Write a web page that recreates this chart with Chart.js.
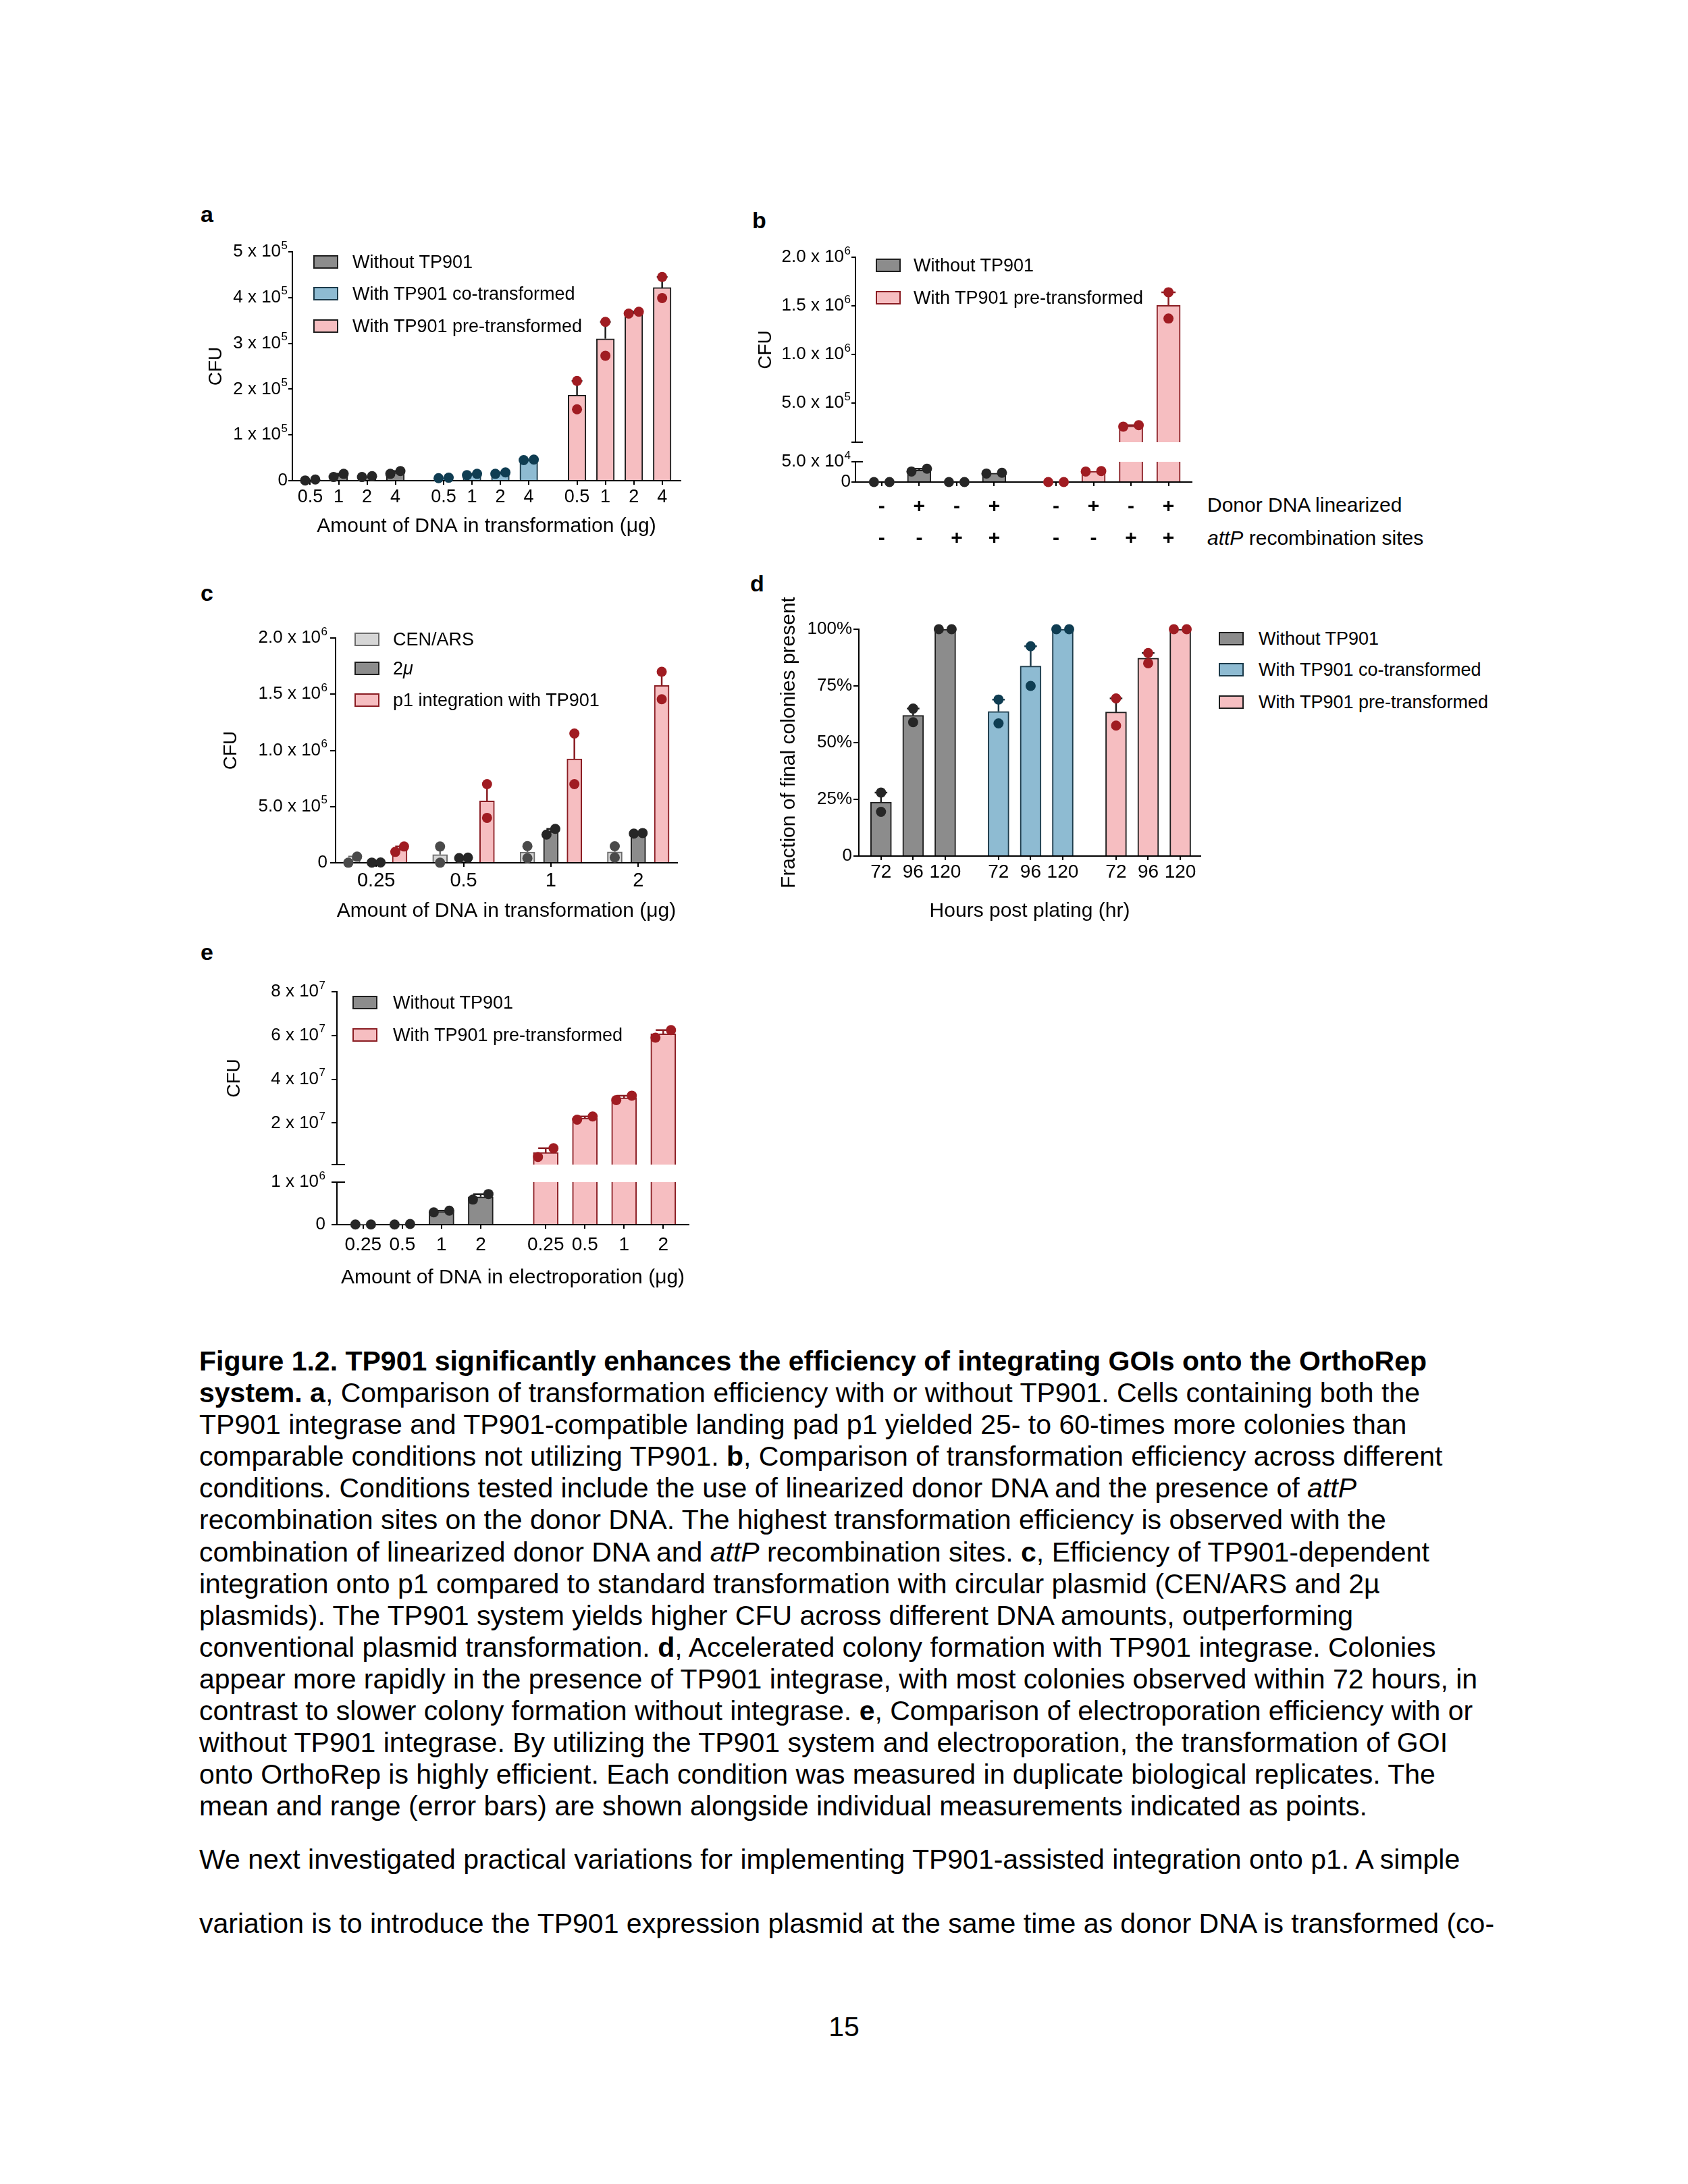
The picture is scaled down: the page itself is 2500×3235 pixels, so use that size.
<!DOCTYPE html>
<html>
<head>
<meta charset="utf-8">
<title>Figure 1.2</title>
<script src="https://cdn.jsdelivr.net/npm/chart.js@4.4.1/dist/chart.umd.min.js"></script>
<style>
  html, body { margin: 0; padding: 0; background: #fff; }
  body { position: relative; width: 2500px; height: 3235px; overflow: hidden;
         font-family: 'Liberation Sans', Arial, Helvetica, sans-serif; color: #000; }
  canvas { position: absolute; }
  .panel { position: absolute; font-weight: bold; font-size: 34px; line-height: 34px; }
  .legbox { position: absolute; width: 37px; height: 20px; box-sizing: border-box; border: 2px solid #000; }
  .legtxt { position: absolute; font-size: 27px; line-height: 30px; white-space: nowrap; }
  .rowlbl { position: absolute; font-size: 30px; line-height: 34px; white-space: nowrap; }
  .text { position: absolute; left: 295px; font-size: 41px; line-height: 47.1px; white-space: nowrap; }
</style>
</head>
<body>
<div class="panel" style="left:297px;top:300px">a</div>
<div class="panel" style="left:1114px;top:309px">b</div>
<div class="panel" style="left:297px;top:861px">c</div>
<div class="panel" style="left:1111px;top:847px">d</div>
<div class="panel" style="left:297px;top:1393px">e</div>

<canvas id="chartA"></canvas>
<canvas id="chartBlow"></canvas>
<canvas id="chartBup"></canvas>
<canvas id="chartC"></canvas>
<canvas id="chartD"></canvas>
<canvas id="chartElow"></canvas>
<canvas id="chartEup"></canvas>

<div class="rowlbl" style="left:1788px;top:731px">Donor DNA linearized</div>
<div class="rowlbl" style="left:1788px;top:780px"><i>attP</i> recombination sites</div>

<div class="text" style="top:1993px">
<b>Figure 1.2. TP901 significantly enhances the efficiency of integrating GOIs onto the OrthoRep</b><br>
<b>system. a</b>, Comparison of transformation efficiency with or without TP901. Cells containing both the<br>
TP901 integrase and TP901-compatible landing pad p1 yielded 25- to 60-times more colonies than<br>
comparable conditions not utilizing TP901. <b>b</b>, Comparison of transformation efficiency across different<br>
conditions. Conditions tested include the use of linearized donor DNA and the presence of <i>attP</i><br>
recombination sites on the donor DNA. The highest transformation efficiency is observed with the<br>
combination of linearized donor DNA and <i>attP</i> recombination sites. <b>c</b>, Efficiency of TP901-dependent<br>
integration onto p1 compared to standard transformation with circular plasmid (CEN/ARS and 2µ<br>
plasmids). The TP901 system yields higher CFU across different DNA amounts, outperforming<br>
conventional plasmid transformation. <b>d</b>, Accelerated colony formation with TP901 integrase. Colonies<br>
appear more rapidly in the presence of TP901 integrase, with most colonies observed within 72 hours, in<br>
contrast to slower colony formation without integrase. <b>e</b>, Comparison of electroporation efficiency with or<br>
without TP901 integrase. By utilizing the TP901 system and electroporation, the transformation of GOI<br>
onto OrthoRep is highly efficient. Each condition was measured in duplicate biological replicates. The<br>
mean and range (error bars) are shown alongside individual measurements indicated as points.
</div>
<div class="text" style="top:2731px">We next investigated practical variations for implementing TP901-assisted integration onto p1. A simple</div>
<div class="text" style="top:2826px">variation is to introduce the TP901 expression plasmid at the same time as donor DNA is transformed (co-</div>
<div class="text" style="top:2979px;left:0;width:2500px;text-align:center">15</div>

<script>
const FAMILY = "'Liberation Sans', Arial, Helvetica, sans-serif";
Chart.defaults.font.family = FAMILY;
Chart.defaults.color = '#000';

// ---------- data ----------
// a
const aDoses = ['0.5', '1', '2', '4'];
const aSeries = ['Without TP901', 'With TP901 co-transformed', 'With TP901 pre-transformed'];
const aWithoutMean = [1500, 11500, 9000, 18000];
const aWithoutRep1 = [500, 8000, 8000, 15000];
const aWithoutRep2 = [2500, 15000, 10000, 21000];
const aCoMean = [6000, 13500, 16500, 45500];
const aCoRep1 = [5500, 12000, 15000, 45000];
const aCoRep2 = [6500, 15000, 18000, 46000];
const aPreMean = [187000, 310000, 367000, 422000];
const aPreRep1 = [218000, 347000, 365000, 445000];
const aPreRep2 = [156000, 273000, 369000, 399000];
const aYTicks = [0, 100000, 200000, 300000, 400000, 500000];
const aYLabels = ['0', '1 x 10^5', '2 x 10^5', '3 x 10^5', '4 x 10^5', '5 x 10^5'];

// b
const bSeries = ['Without TP901', 'With TP901 pre-transformed'];
const bLinearized = ['-', '+', '-', '+'];
const bAttP = ['-', '-', '+', '+'];
const bWithoutMean = [0, 29500, 0, 22000];
const bWithoutRep1 = [0, 26000, 0, 21000];
const bWithoutRep2 = [0, 33000, 0, 23000];
const bPreMean = [0, 26500, 268000, 1505000];
const bPreRep1 = [0, 26000, 260000, 1640000];
const bPreRep2 = [0, 27000, 275000, 1370000];
const bLowTicks = [0, 50000];
const bLowLabels = ['0', '5.0 x 10^4'];
const bUpTicks = [100000, 500000, 1000000, 1500000, 2000000];
const bUpLabels = ['', '5.0 x 10^5', '1.0 x 10^6', '1.5 x 10^6', '2.0 x 10^6'];

// c
const cDoses = ['0.25', '0.5', '1', '2'];
const cSeries = ['CEN/ARS', '2<i>μ</i>', 'p1 integration with TP901'];
const cCenMean = [28000, 73000, 95000, 97000];
const cCenRep1 = [1000, 145000, 149000, 147000];
const cCenRep2 = [55000, 1000, 41000, 47000];
const c2muMean = [2500, 44000, 277000, 262000];
const c2muRep1 = [2000, 42000, 251000, 260000];
const c2muRep2 = [3000, 46000, 302000, 265000];
const cP1Mean = [121000, 550000, 925000, 1578000];
const cP1Rep1 = [97000, 700000, 1150000, 1700000];
const cP1Rep2 = [145000, 400000, 700000, 1455000];
const cYTicks = [0, 500000, 1000000, 1500000, 2000000];
const cYLabels = ['0', '5.0 x 10^5', '1.0 x 10^6', '1.5 x 10^6', '2.0 x 10^6'];

// d
const dHours = ['72', '96', '120'];
const dSeries = ['Without TP901', 'With TP901 co-transformed', 'With TP901 pre-transformed'];
const dWithoutMean = [23.75, 62, 100];
const dWithoutRep1 = [28, 65, 100];
const dWithoutRep2 = [19.5, 59, 100];
const dCoMean = [63.75, 83.75, 100];
const dCoRep1 = [69, 92.5, 100];
const dCoRep2 = [58.5, 75, 100];
const dPreMean = [63.5, 87.25, 100];
const dPreRep1 = [69.5, 89.5, 100];
const dPreRep2 = [57.5, 85, 100];
const dYTicks = [0, 25, 50, 75, 100];
const dYLabels = ['0', '25%', '50%', '75%', '100%'];

// e
const eDoses = ['0.25', '0.5', '1', '2'];
const eSeries = ['Without TP901', 'With TP901 pre-transformed'];
const eWithoutMean = [4000, 10000, 310000, 655000];
const eWithoutRep1 = [3000, 5000, 290000, 590000];
const eWithoutRep2 = [5000, 15000, 330000, 720000];
const ePreMean = [6500000, 22250000, 31500000, 60750000];
const ePreRep1 = [4500000, 21500000, 30500000, 59000000];
const ePreRep2 = [8500000, 23000000, 32500000, 62500000];
const eLowTicks = [0, 1000000];
const eLowLabels = ['0', '1 x 10^6'];
const eUpTicks = [1000000, 20000000, 40000000, 60000000, 80000000];
const eUpLabels = ['', '2 x 10^7', '4 x 10^7', '6 x 10^7', '8 x 10^7'];

// ---------- colours ----------
const GRAY = { fill: '#8c8c8c', line: '#1e1e1e', dot: '#262626' };
const LIGHT = { fill: '#d6d6d6', line: '#6b6b6b', dot: '#4a4a4a' };
const BLUE = { fill: '#8ebbd2', line: '#1b3a4a', dot: '#0f3d52' };
const PINK = { fill: '#f6bec1', line: '#1e1e1e', dot: '#a01c22' };
const PINKRED = { fill: '#f6bec1', line: '#8a1d23', dot: '#a01c22' };

// ---------- plugins ----------
const errorBars = {
  id: 'errorBars',
  afterDatasetDraw(chart, args) {
    const ds = chart.data.datasets[args.index];
    if (!ds.errHigh) return;
    const ctx = chart.ctx, area = chart.chartArea, y = chart.scales[args.meta.yAxisID];
    ctx.save();
    ctx.beginPath();
    ctx.rect(0, area.top, chart.width, area.bottom - area.top);
    ctx.clip();
    ctx.strokeStyle = ds.errColor;
    ctx.lineWidth = 2.5;
    args.meta.data.forEach((bar, i) => {
      const yTop = y.getPixelForValue(ds.errHigh[i]);
      const yMean = y.getPixelForValue(ds.data[i].y);
      if (yMean - yTop < 1) return;
      const half = bar.width * 0.3;
      ctx.beginPath();
      ctx.moveTo(bar.x, yMean);
      ctx.lineTo(bar.x, yTop);
      ctx.moveTo(bar.x - half, yTop);
      ctx.lineTo(bar.x + half, yTop);
      ctx.stroke();
    });
    ctx.restore();
  }
};

// little horizontal stub where the y axis is broken
const breakCap = {
  id: 'breakCap',
  afterDraw(chart, args, o) {
    if (!o || !o.edge) return;
    const a = chart.chartArea, ctx = chart.ctx;
    const y = o.edge === 'top' ? a.top : a.bottom;
    ctx.save();
    ctx.strokeStyle = '#000';
    ctx.lineWidth = 2;
    ctx.beginPath();
    ctx.moveTo(a.left, y);
    ctx.lineTo(a.left + o.len, y);
    ctx.stroke();
    ctx.restore();
  }
};

// y tick labels with a real raised exponent ("5 x 10^5")
const supTicks = {
  id: 'supTicks',
  afterDraw(chart, args, o) {
    if (!o || !o.labels) return;
    const ys = chart.scales.y, ctx = chart.ctx;
    const right = chart.chartArea.left - o.offset;
    ctx.save();
    ctx.fillStyle = '#000';
    ctx.textBaseline = 'middle';
    ctx.textAlign = 'right';
    ys.ticks.forEach((t, i) => {
      const parts = (o.labels[i] || '').split('^');
      const py = ys.getPixelForValue(t.value);
      let x = right;
      if (parts[1]) {
        ctx.font = '17px ' + FAMILY;
        ctx.fillText(parts[1], x, py - 9);
        x -= ctx.measureText(parts[1]).width + 0.5;
      }
      ctx.font = '26px ' + FAMILY;
      ctx.fillText(parts[0], x, py);
    });
    ctx.restore();
  }
};

// ---------- helpers ----------
function positions(nGroups, perGroup, gap) {
  const out = [];
  let x = 0;
  for (let g = 0; g < nGroups; g++) {
    for (let k = 0; k < perGroup; k++) { out.push(x); x += 1; }
    x += gap - 1;
  }
  return out;
}

function makeChart(id, box, area, cfg) {
  const cv = document.getElementById(id);
  cv.width = box.w;
  cv.height = box.h;
  cv.style.left = box.l + 'px';
  cv.style.top = box.t + 'px';

  const showX = cfg.xTicks !== undefined;
  const unitX = (area.r - area.l) / (cfg.xMax - cfg.xMin);
  const unitY = (area.b - area.t) / (cfg.yMax - cfg.yMin);
  const dx = cfg.dotDx / unitX;
  const near = 15 / unitY;

  let barClip, dotClip = false, lo = -Infinity, hi = Infinity;
  if (cfg.part === 'upper') {
    barClip = dotClip = { left: false, right: false, top: false, bottom: 0 };
    lo = cfg.yMin;
  } else if (cfg.part === 'lower') {
    barClip = dotClip = { left: false, right: false, top: 0, bottom: false };
    hi = cfg.yMax;
  }

  const datasets = [];
  cfg.series.forEach(s => {
    datasets.push({
      type: 'bar',
      data: s.x.map((x, i) => ({ x: x, y: s.mean[i] })),
      backgroundColor: s.col.fill,
      borderColor: s.col.line,
      borderWidth: 2,
      barThickness: cfg.barThickness,
      grouped: false,
      order: 2,
      errHigh: s.r1.map((v, i) => Math.max(v, s.r2[i])),
      errColor: s.col.line,
      clip: barClip
    });
    const pts = [];
    s.x.forEach((x, i) => {
      const a = s.r1[i], b = s.r2[i];
      let xa = x, xb = x;
      if (Math.abs(a - b) < near) {
        if (a <= b) { xa = x - dx; xb = x + dx; } else { xa = x + dx; xb = x - dx; }
      }
      if (a >= lo && a <= hi) pts.push({ x: xa, y: a });
      if (b >= lo && b <= hi) pts.push({ x: xb, y: b });
    });
    datasets.push({
      type: 'scatter',
      data: pts,
      pointRadius: 7.5,
      pointHoverRadius: 7.5,
      pointBackgroundColor: s.col.dot,
      pointBorderWidth: 0,
      order: 1,
      clip: dotClip
    });
  });

  const axisLine = { display: true, color: '#000', width: 2 };
  const x = {
    type: 'linear', min: cfg.xMin, max: cfg.xMax, display: showX, offset: false,
    grid: { display: true, offset: false, drawOnChartArea: false, drawTicks: true, tickLength: 6, color: '#000', lineWidth: 2 },
    border: axisLine
  };
  if (showX) {
    x.afterFit = sc => { sc.height = box.t + box.h - area.b; };
    x.afterBuildTicks = sc => { sc.ticks = cfg.xTicks.map(v => ({ value: v })); };
    x.ticks = { autoSkip: false, maxRotation: 0, minRotation: 0, padding: cfg.xPad, font: cfg.xFont, color: '#000',
                callback: (v, i) => cfg.xLabels[i] };
    x.title = cfg.xTitle
      ? { display: true, text: cfg.xTitle, font: { size: 30 }, color: '#000', padding: { top: 0, bottom: cfg.xTitlePad } }
      : { display: false };
  }
  const y = {
    type: 'linear', min: cfg.yMin, max: cfg.yMax,
    afterFit: sc => { sc.width = area.l - box.l; },
    afterBuildTicks: sc => { sc.ticks = cfg.yTicks.map(v => ({ value: v })); },
    ticks: { display: false, autoSkip: false },
    grid: { display: true, drawOnChartArea: false, drawTicks: true, tickLength: cfg.yTick, color: '#000', lineWidth: 2 },
    border: axisLine,
    title: cfg.yTitle
      ? { display: true, text: cfg.yTitle, font: { size: cfg.yTitleSize }, color: '#000', padding: { top: cfg.yTitlePad, bottom: 0 } }
      : { display: false }
  };

  return new Chart(cv, {
    type: 'bar',
    data: { datasets: datasets },
    options: {
      responsive: false,
      animation: false,
      devicePixelRatio: 1,
      events: [],
      layout: { padding: { left: 0, top: area.t - box.t, right: box.l + box.w - area.r,
                           bottom: showX ? 0 : box.t + box.h - area.b } },
      plugins: {
        legend: { display: false },
        tooltip: { enabled: false },
        breakCap: cfg.breakCap || {},
        supTicks: { labels: cfg.yLabels, offset: cfg.yTick + cfg.yPad }
      },
      scales: { x: x, y: y }
    },
    plugins: [errorBars, breakCap, supTicks]
  });
}

function legend(names, cols, boxLeft, textLeft, rows) {
  names.forEach((n, i) => {
    const b = document.createElement('div');
    b.className = 'legbox';
    b.style.left = boxLeft + 'px';
    b.style.top = (rows[i] - 10) + 'px';
    b.style.background = cols[i].fill;
    b.style.borderColor = cols[i].line;
    const t = document.createElement('div');
    t.className = 'legtxt';
    t.style.left = textLeft + 'px';
    t.style.top = (rows[i] - 15) + 'px';
    t.innerHTML = n;
    document.body.append(b, t);
  });
}

// ---------- panel a ----------
const aPos = positions(3, 4, 1.7);
makeChart('chartA', { l: 290, t: 330, w: 740, h: 480 }, { l: 433, t: 373, r: 1008, b: 712 }, {
  xMin: -0.63, xMax: 13.05, xTicks: aPos, xLabels: aDoses.concat(aDoses, aDoses),
  xFont: { size: 27 }, xPad: 2.8, xTitle: 'Amount of DNA in transformation (μg)', xTitlePad: 12,
  yMin: 0, yMax: 500000, yTicks: aYTicks, yLabels: aYLabels, yTick: 6, yPad: 1,
  yTitle: 'CFU', yTitleSize: 28, yTitlePad: 13.2,
  barThickness: 26.5, dotDx: 7.5,
  series: [
    { x: aPos.slice(0, 4), mean: aWithoutMean, r1: aWithoutRep1, r2: aWithoutRep2, col: GRAY },
    { x: aPos.slice(4, 8), mean: aCoMean, r1: aCoRep1, r2: aCoRep2, col: BLUE },
    { x: aPos.slice(8, 12), mean: aPreMean, r1: aPreRep1, r2: aPreRep2, col: PINK }
  ]
});
legend(aSeries, [GRAY, BLUE, PINK], 464, 522, [388, 435, 483]);

// ---------- panel b (broken axis) ----------
const bPos = positions(2, 4, 1.65);
const bSeriesData = [
  { x: bPos.slice(0, 4), mean: bWithoutMean, r1: bWithoutRep1, r2: bWithoutRep2, col: GRAY },
  { x: bPos.slice(4, 8), mean: bPreMean, r1: bPreRep1, r2: bPreRep2, col: PINKRED }
];
const bLabels = bLinearized.concat(bLinearized).map((v, i) => [v, bAttP.concat(bAttP)[i]]);
makeChart('chartBlow', { l: 1100, t: 664, w: 680, h: 156 }, { l: 1267, t: 684, r: 1765, b: 714 }, {
  part: 'lower',
  xMin: -0.7, xMax: 8.27, xTicks: bPos, xLabels: bLabels,
  xFont: { size: 30, weight: 'bold', lineHeight: 1.57 }, xPad: 7,
  yMin: 0, yMax: 50000, yTicks: bLowTicks, yLabels: bLowLabels, yTick: 6, yPad: 1,
  barThickness: 35, dotDx: 11.5, series: bSeriesData,
  breakCap: { edge: 'top', len: 11 }
});
makeChart('chartBup', { l: 1100, t: 350, w: 680, h: 325 }, { l: 1267, t: 381, r: 1765, b: 655 }, {
  part: 'upper',
  xMin: -0.7, xMax: 8.27,
  yMin: 100000, yMax: 2000000, yTicks: bUpTicks, yLabels: bUpLabels, yTick: 6, yPad: 1,
  yTitle: 'CFU', yTitleSize: 28, yTitlePad: 17.2,
  barThickness: 35, dotDx: 11.5, series: bSeriesData,
  breakCap: { edge: 'bottom', len: 11 }
});
legend(bSeries, [GRAY, PINKRED], 1297, 1353, [393, 441]);

// ---------- panel c ----------
const cStep = 3.72;
const cX = s => cDoses.map((d, g) => g * cStep + s);
makeChart('chartC', { l: 290, t: 905, w: 740, h: 470 }, { l: 497, t: 945, r: 1003, b: 1278 }, {
  xMin: -0.73, xMax: 13.82, xTicks: cX(1), xLabels: cDoses,
  xFont: { size: 29 }, xPad: 3.6, xTitle: 'Amount of DNA in transformation (μg)', xTitlePad: 7,
  yMin: 0, yMax: 2000000, yTicks: cYTicks, yLabels: cYLabels, yTick: 8, yPad: 4,
  yTitle: 'CFU', yTitleSize: 28, yTitlePad: 35.2,
  barThickness: 22, dotDx: 6.5,
  series: [
    { x: cX(0), mean: cCenMean, r1: cCenRep1, r2: cCenRep2, col: LIGHT },
    { x: cX(1), mean: c2muMean, r1: c2muRep1, r2: c2muRep2, col: GRAY },
    { x: cX(2), mean: cP1Mean, r1: cP1Rep1, r2: cP1Rep2, col: PINKRED }
  ]
});
legend(cSeries, [LIGHT, GRAY, PINKRED], 525, 582, [947, 990, 1037]);

// ---------- panel d ----------
const dPos = positions(3, 3, 1.66);
makeChart('chartD', { l: 1120, t: 880, w: 680, h: 500 }, { l: 1272, t: 932, r: 1778, b: 1268 }, {
  xMin: -0.69, xMax: 9.95, xTicks: dPos, xLabels: dHours.concat(dHours, dHours),
  xFont: { size: 28 }, xPad: 1.2, xTitle: 'Hours post plating (hr)', xTitlePad: 12,
  yMin: 0, yMax: 100, yTicks: dYTicks, yLabels: dYLabels, yTick: 8, yPad: 2,
  yTitle: 'Fraction of final colonies present', yTitleSize: 30, yTitlePad: 31,
  barThickness: 31, dotDx: 9.5,
  series: [
    { x: dPos.slice(0, 3), mean: dWithoutMean, r1: dWithoutRep1, r2: dWithoutRep2, col: GRAY },
    { x: dPos.slice(3, 6), mean: dCoMean, r1: dCoRep1, r2: dCoRep2, col: BLUE },
    { x: dPos.slice(6, 9), mean: dPreMean, r1: dPreRep1, r2: dPreRep2, col: PINK }
  ]
});
legend(dSeries, [GRAY, BLUE, PINK], 1805, 1864, [946, 992, 1040]);

// ---------- panel e (broken axis) ----------
const ePos = positions(2, 4, 1.66);
const eSeriesData = [
  { x: ePos.slice(0, 4), mean: eWithoutMean, r1: eWithoutRep1, r2: eWithoutRep2, col: GRAY },
  { x: ePos.slice(4, 8), mean: ePreMean, r1: ePreRep1, r2: ePreRep2, col: PINKRED }
];
makeChart('chartElow', { l: 290, t: 1730, w: 740, h: 185 }, { l: 499, t: 1751, r: 1020, b: 1814 }, {
  part: 'lower',
  xMin: -0.67, xMax: 8.31, xTicks: ePos, xLabels: eDoses.concat(eDoses),
  xFont: { size: 28 }, xPad: 7.2, xTitle: 'Amount of DNA in electroporation (μg)', xTitlePad: 4,
  yMin: 0, yMax: 1000000, yTicks: eLowTicks, yLabels: eLowLabels, yTick: 8, yPad: 9,
  barThickness: 37, dotDx: 11.5, series: eSeriesData,
  breakCap: { edge: 'top', len: 12 }
});
makeChart('chartEup', { l: 290, t: 1440, w: 740, h: 305 }, { l: 499, t: 1469, r: 1020, b: 1725 }, {
  part: 'upper',
  xMin: -0.67, xMax: 8.31,
  yMin: 1000000, yMax: 80000000, yTicks: eUpTicks, yLabels: eUpLabels, yTick: 8, yPad: 9,
  yTitle: 'CFU', yTitleSize: 28, yTitlePad: 40.2,
  barThickness: 37, dotDx: 11.5, series: eSeriesData,
  breakCap: { edge: 'bottom', len: 12 }
});
legend(eSeries, [GRAY, PINKRED], 522, 582, [1485, 1533]);
</script>
</body>
</html>
